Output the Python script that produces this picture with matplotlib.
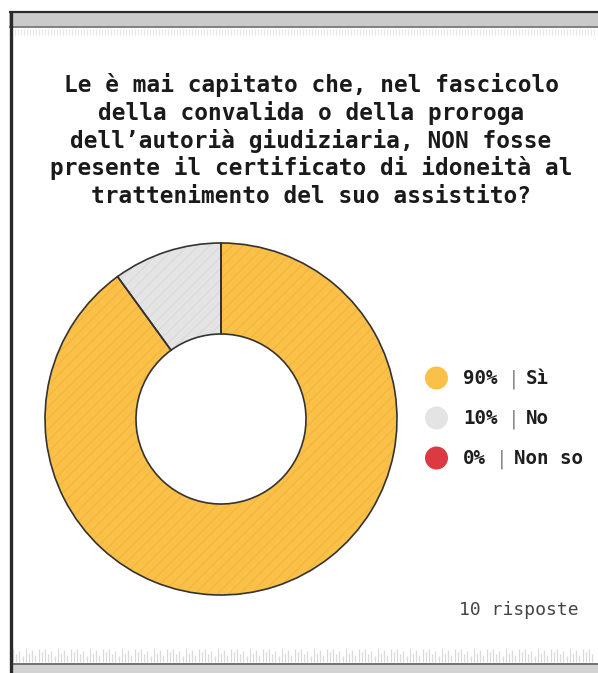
import matplotlib.pyplot as plt
from matplotlib.patches import Circle, Rectangle

W, H = 598, 673

title_lines = [
    "Le è mai capitato che, nel fascicolo",
    "della convalida o della proroga",
    "dell’autorià giudiziaria, NON fosse",
    "presente il certificato di idoneità al",
    "trattenimento del suo assistito?",
]
answers = ["Sì", "No", "Non so"]
shares = [90, 10, 0]
fills = ["#FAC048", "#E4E4E4", "#DB3A43"]
stripes = ["#F2B63E", "#DADADA", "#C9323A"]
n_answers = 10

plt.rcParams["hatch.linewidth"] = 0.8


def py(y):
    # pixel row from the top -> data y
    return H - y


fig = plt.figure(figsize=(W / 100, H / 100), dpi=100)
ax = fig.add_axes([0, 0, 1, 1])
mono = "DejaVu Sans Mono"

# frame: top bar, left rule, bottom bar
ax.add_patch(Rectangle((9, py(26)), W - 9, 14, fc="#CACACA", ec="none"))
ax.hlines(py(11.5), 9, W, color="#2A2A2A", lw=1.6)
ax.hlines(py(26.5), 9, W, color="#6A6A6A", lw=1.2)
xs = [12 + 3 * i for i in range((W - 12) // 3)]
ax.vlines(xs, py(35), py(29), color="#E8E8E8", lw=0.8)
ax.add_patch(Rectangle((11, 0), W - 11, py(664.5), fc="#D3D3D3", ec="none"))
ax.hlines(py(664), 11, W, color="#5A5A5A", lw=1.2)
heights = [13, 8, 11, 6, 14, 9, 12, 7, 13, 10]
xs = [13 + 3.2 * i for i in range(int((W - 13) / 3.2))]
tops = [662 - heights[i % len(heights)] for i in range(len(xs))]
ax.vlines(xs, py(662), [py(t) for t in tops], color="#DADADA", lw=0.9)
ax.vlines(10.5, 0, py(11), color="#2A2A2A", lw=2.4)

# title
for i, line in enumerate(title_lines):
    ax.text(311, py(92 + 27.8 * i), line, ha="center", va="baseline",
            fontsize=16.4, fontweight="bold", family=mono, color="#1A1A1A")

# donut: striped fill first, outlines on top
cx, cy, R, ring = 221, py(419), 176, 91
wedges, _ = ax.pie(shares, colors=fills, startangle=90, counterclock=False,
                   radius=R, center=(cx, cy), frame=True,
                   wedgeprops=dict(width=ring, linewidth=0))
for w, sc in zip(wedges, stripes):
    w.set_hatch("///")
    w.set_edgecolor(sc)
ax.pie(shares, startangle=90, counterclock=False, radius=R, center=(cx, cy),
       frame=True, wedgeprops=dict(width=ring, fill=False,
                                   edgecolor="#333333", linewidth=1.2))

# legend
fs = 13.8
cw = 11.5
for i, (lbl, s, c) in enumerate(zip(answers, shares, fills)):
    yc = 378 + 40 * i
    ax.add_patch(Circle((436.5, py(yc)), 11.5, color=c, ec="none"))
    pct = f"{s}%"
    ax.text(463, py(yc + 6.5), pct, ha="left", va="baseline", fontsize=fs,
            fontweight="bold", family=mono, color="#1E1E1E")
    bx = 463 + len(pct) * cw + 16
    ax.text(bx, py(yc + 6.5), "|", ha="center", va="baseline", fontsize=fs,
            family=mono, color="#8A8A8A")
    ax.text(bx + 12, py(yc + 6.5), lbl, ha="left", va="baseline", fontsize=fs,
            fontweight="bold", family=mono, color="#1E1E1E")

ax.text(579, py(615), f"{n_answers} risposte", ha="right", va="baseline",
        fontsize=13, family=mono, color="#444444")

ax.set_xlim(0, W)
ax.set_ylim(0, H)
ax.set_aspect("equal")
ax.axis("off")
fig.savefig("out.png", dpi=100)
